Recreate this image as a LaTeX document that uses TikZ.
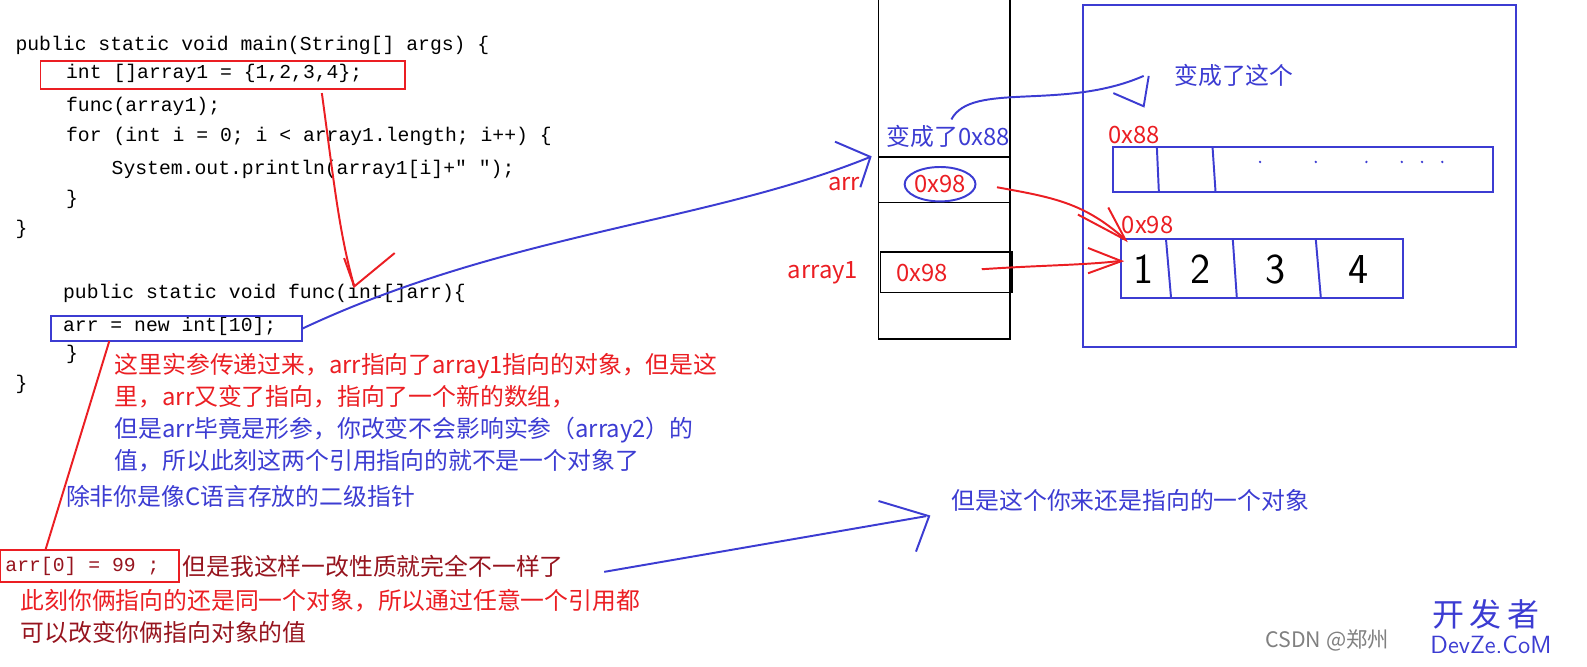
\documentclass[tikz,border=0pt]{standalone}
\usepackage{fontspec}
\setmonofont{Liberation Mono}
\newfontfamily\cjk{Noto Sans CJK SC}
\usetikzlibrary{positioning}
\definecolor{penred}{RGB}{235,30,35}
\definecolor{penblue}{RGB}{60,60,210}
\definecolor{darkred}{RGB}{150,20,30}
\tikzset{
  code/.style={anchor=west, inner sep=0pt, font=\ttfamily\fontsize{11.1}{12}\selectfont},
  note/.style={anchor=west, inner sep=0pt, font=\cjk\fontsize{13.4}{15}\selectfont},
  redpen/.style={penred, line width=1.1pt},
  bluepen/.style={penblue, line width=1.1pt},
  cell/.style={black, line width=1pt},
  digit/.style={font=\sffamily\fontsize{24}{26}\selectfont}
}
\begin{document}
\begin{tikzpicture}[x=0.02cm, y=-0.02cm]
\useasboundingbox (0,0) rectangle (1568,659);

% code
\node[code] (l1) at (15,45) {public static void main(String[] args) \{};
\node[code] (l2) at (65,73) {int []array1 = \{1,2,3,4\};};
\node[code] (l3) at (65,105) {func(array1);};
\node[code] (l4) at (65,135) {for (int i = 0; i < array1.length; i++) \{};
\node[code] (l5) at (110,167) {System.out.println(array1[i]+" ");};
\node[code] (l6) at (65,197) {\}};
\node[code] (l7) at (15,227) {\}};
\node[code] (f1) at (62,290) {public static void func(int[]arr)\{};
\node[code] (f2) at (62,322) {arr = new int[10];};
\node[code] (f3) at (65,350) {\}};
\node[code] (f4) at (15,380) {\}};
\node[code, darkred] (a0) at (5,560) {arr[0] = 99 ;};

% boxes around code
\draw[redpen] (40,60) rectangle (400,88);
\draw[bluepen] (50,312) rectangle (298,337);
\draw[redpen] (0,543) rectangle (177,575);

% notes
\node[note, penred] (n1) at (113,362) {这里实参传递过来，arr指向了array1指向的对象，但是这};
\node[note, penred] (n2) at (113,392) {里，arr又变了指向，指向了一个新的数组，};
\node[note, penblue] (n3) at (113,425) {但是arr毕竟是形参，你改变不会影响实参（array2）的};
\node[note, penblue] (n4) at (113,455) {值，所以此刻这两个引用指向的就不是一个对象了};
\node[note, penblue] (n5) at (65,490) {除非你是像C语言存放的二级指针};
\node[note, darkred] (m1) at (180,560) {但是我这样一改性质就完全不一样了};
\node[note, penred] (m2) at (20,593) {此刻你俩指向的还是同一个对象，所以通过任意一个引用都};
\node[note, darkred] (m3) at (20,625) {可以改变你俩指向对象的值};
\node[note, penblue] (m4) at (940,494) {但是这个你来还是指向的一个对象};

% stack
\draw[cell] (868,0) -- (868,335) -- (998,335) -- (998,0);
\draw[cell] (868,155) -- (998,155);
\draw[cell] (868,200) -- (998,200);
\draw[cell] (870,249) rectangle (1000,289);
\node[note, penblue] (s0) at (876,135) {变成了0x88};
\node[note, penred] (sarr) at (818,182) {arr};
\node[note, penred] (sv1) at (903,182) {0x98};
\draw[bluepen] (sv1) ellipse (35 and 17);
\node[note, penred] (sa1) at (778,270) {array1};
\node[note, penred] (sv2) at (885,270) {0x98};

% heap
\draw[bluepen] (1070,5) rectangle (1498,343);
\node[note, penblue] (h0) at (1160,75) {变成了这个};
\node[note, penred] (h1) at (1095,133) {0x88};
\node[note, penred] (h2) at (1108,222) {0x98};
\draw[bluepen] (1100,145) rectangle (1475,190);
\draw[bluepen] (1143,145) -- (1145,190) (1198,145) -- (1201,190);
\foreach \px in {1245,1300,1350,1385,1405,1425}
  \fill[penblue] (\px,160) circle (1.3);
\draw[bluepen] (1108,236) rectangle (1386,294);
\draw[bluepen] (1152,236) -- (1157,294) (1218,236) -- (1222,294) (1300,236) -- (1305,294);
\node[digit] (d1) at (1130,266) {1};
\node[digit] (d2) at (1186,266) {2};
\node[digit] (d3) at (1260,266) {3};
\node[digit] (d4) at (1342,266) {4};

% red connectors
\draw[redpen] (318,92) .. controls (330,180) and (335,230) .. (350,283);
\draw[redpen] (340,255) -- (350,283) -- (390,250);
\draw[redpen] (108,337) -- (45,543);
\draw[redpen] (985,185) .. controls (1040,195) and (1070,200) .. (1110,235);
\draw[redpen] (1065,212) -- (1112,237) -- (1095,205);
\draw[redpen] (970,266) .. controls (1030,262) and (1070,262) .. (1105,258);
\draw[redpen] (1075,245) -- (1108,258) -- (1075,270);

% blue connectors
\draw[bluepen] (298,325) .. controls (500,230) and (700,220) .. (860,155);
\draw[bluepen] (825,140) -- (860,155) -- (850,185);
\draw[bluepen] (940,118) .. controls (960,80) and (1050,110) .. (1130,75);
\draw[bluepen] (1100,92) -- (1130,105) -- (1135,75);
\draw[bluepen] (597,565) -- (915,510);
\draw[bluepen] (868,495) -- (918,510) -- (905,545);

% watermark
\node[note, gray, font=\cjk\fontsize{12}{14}\selectfont] (w1) at (1250,633) {CSDN @郑州};
\node[anchor=west, inner sep=0pt, penblue, font=\cjk\fontsize{18}{20}\selectfont] (w2) at (1415,607) {开\,发\,者};
\node[anchor=west, inner sep=0pt, penblue, font=\sffamily\fontsize{14}{16}\selectfont] (w3) at (1413,637) {DevZe.CoM};
\end{tikzpicture}
\end{document}
